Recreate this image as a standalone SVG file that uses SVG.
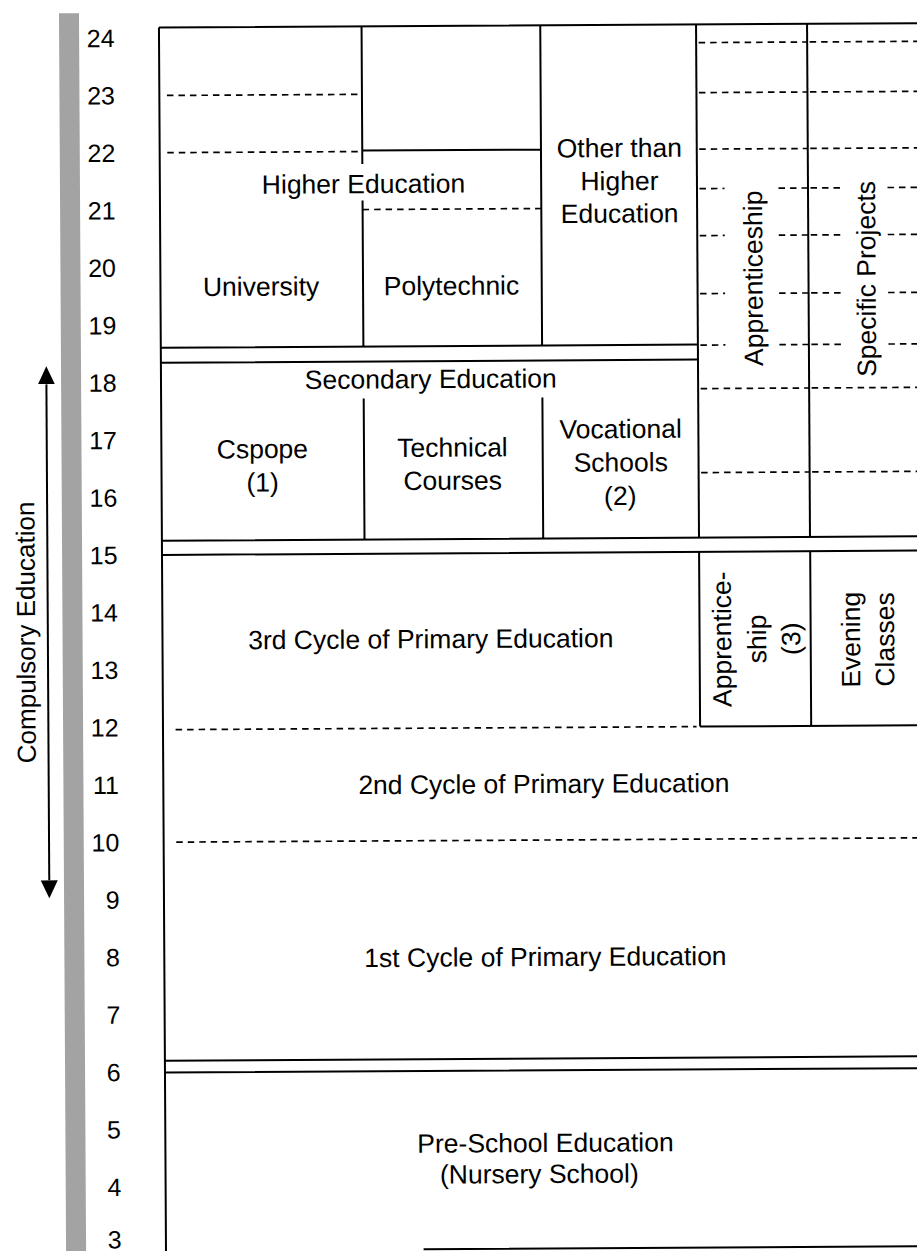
<svg xmlns="http://www.w3.org/2000/svg" width="917" height="1251" viewBox="0 0 917 1251">
<style>
.s{stroke:#000;stroke-width:2;fill:none}
.d{stroke:#000;stroke-width:1.7;stroke-dasharray:6.5 5;fill:none}
.t{font-family:"Liberation Sans",Arial,Helvetica,sans-serif;font-size:26.5px;fill:#000;text-anchor:middle}
.n{font-family:"Liberation Sans",Arial,Helvetica,sans-serif;font-size:25px;fill:#000;text-anchor:end}
</style>
<defs>
<marker id="ah" viewBox="0 0 18 17" refX="0" refY="8.5" markerUnits="userSpaceOnUse" markerWidth="18" markerHeight="17" orient="auto-start-reverse">
<path d="M0,0 L18,8.5 L0,17 z" fill="#000"/>
</marker>
</defs>
<rect width="917" height="1251" fill="#fff"/>
<g transform="rotate(-0.33 459 625)">
<g id="age-scale">
<rect x="62.5" y="11" width="20" height="1262" fill="#a3a3a3"/>
<text class="n" x="118" y="45">24</text>
<text class="n" x="118" y="102.45">23</text>
<text class="n" x="118" y="159.9">22</text>
<text class="n" x="118" y="217.35">21</text>
<text class="n" x="118" y="274.8">20</text>
<text class="n" x="118" y="332.25">19</text>
<text class="n" x="118" y="389.7">18</text>
<text class="n" x="118" y="447.15">17</text>
<text class="n" x="118" y="504.6">16</text>
<text class="n" x="118" y="562.05">15</text>
<text class="n" x="118" y="619.5">14</text>
<text class="n" x="118" y="676.95">13</text>
<text class="n" x="118" y="734.4">12</text>
<text class="n" x="118" y="791.85">11</text>
<text class="n" x="118" y="849.3">10</text>
<text class="n" x="118" y="906.75">9</text>
<text class="n" x="118" y="964.2">8</text>
<text class="n" x="118" y="1021.65">7</text>
<text class="n" x="118" y="1079.1">6</text>
<text class="n" x="118" y="1136.55">5</text>
<text class="n" x="118" y="1194">4</text>
<text class="n" x="118" y="1246.5">3</text>
</g>
<g id="compulsory-education">
<text class="t" style="font-size:26px" transform="translate(35 630) rotate(-90)">Compulsory Education</text>
</g>
<g id="connectors">
<path class="s" d="M47.8 382 V878" marker-start="url(#ah)" marker-end="url(#ah)"/>
</g>
<g id="frame">
<path class="s" d="M162.4 25.8 H935 M162.4 25.8 V1270"/>
</g>
<g id="higher-education">
<path class="s" d="M365 25.8 V163.5 M365 200 V346 M543.7 25.8 V346 M365 150 H543.7 M162.4 346 H699.5"/>
<path class="d" d="M170 93.8 H365 M170 151 H365 M365 209 H543.7"/>
<text class="t" x="366" y="192.5">Higher Education</text>
</g>
<g id="university">
<text class="t" x="263" y="294.5">University</text>
</g>
<g id="polytechnic">
<text class="t" x="453.4" y="294.8">Polytechnic</text>
</g>
<g id="other-than-higher-education">
<text class="t" x="622" y="158">Other than</text>
<text class="t" x="622" y="191">Higher</text>
<text class="t" x="622" y="223.5">Education</text>
</g>
<g id="apprenticeship">
<path class="s" d="M699.5 25.8 V539"/>
<path class="d" d="M702 44 H810.5 M702 94 H810.5 M702 150.5 H810.5 M702 390 H810.5 M702 474 H810.5 M702 190 H727 M781 190 H810.5 M702 237 H727 M781 237 H810.5 M702 295 H727 M781 295 H810.5 M702 346.5 H727 M781 346.5 H810.5"/>
<text class="t" transform="translate(764.5 280) rotate(-90)">Apprenticeship</text>
</g>
<g id="specific-projects">
<path class="s" d="M810.5 25.8 V539"/>
<path class="d" d="M813 44 H935 M813 94 H935 M813 150.5 H935 M813 390 H935 M813 474 H935 M813 190 H844 M890 190 H935 M813 237 H844 M890 237 H935 M813 295 H844 M890 295 H935 M813 346.5 H844 M890 346.5 H935"/>
<text class="t" transform="translate(877.5 281.3) rotate(-90)">Specific Projects</text>
</g>
<g id="secondary-education">
<path class="s" d="M162.4 361 H699.5 M365 398 V539 M543.7 398 V539 M162.4 539 H935 M162.4 553.2 H935"/>
<text class="t" x="432.2" y="388">Secondary Education</text>
</g>
<g id="cspope">
<text class="t" x="263.4" y="457">Cspope</text>
<text class="t" x="263.4" y="490.4">(1)</text>
</g>
<g id="technical-courses">
<text class="t" x="453.5" y="456.6">Technical</text>
<text class="t" x="453.5" y="489.6">Courses</text>
</g>
<g id="vocational-schools">
<text class="t" x="621.7" y="439">Vocational</text>
<text class="t" x="621.7" y="472.4">Schools</text>
<text class="t" x="621" y="506">(2)</text>
</g>
<g id="primary-3rd-cycle">
<path class="d" d="M175 728 H696"/>
<text class="t" x="430.7" y="648">3rd Cycle of Primary Education</text>
</g>
<g id="apprenticeship-3">
<path class="s" d="M699.5 553.2 V728 M810.6 553.2 V728 M699.5 728 H935"/>
<text class="t" transform="translate(731 640.7) rotate(-90)">Apprentice-</text>
<text class="t" transform="translate(766 640.7) rotate(-90)">ship</text>
<text class="t" transform="translate(800 640.7) rotate(-90)">(3)</text>
</g>
<g id="evening-classes">
<text class="t" transform="translate(860 642) rotate(-90)">Evening</text>
<text class="t" transform="translate(894 642) rotate(-90)">Classes</text>
</g>
<g id="primary-2nd-cycle">
<path class="d" d="M175 840.5 H935"/>
<text class="t" x="543" y="793.5">2nd Cycle of Primary Education</text>
</g>
<g id="primary-1st-cycle">
<path class="s" d="M162.4 1059 H935"/>
<text class="t" x="543.5" y="966.5">1st Cycle of Primary Education</text>
</g>
<g id="pre-school">
<path class="s" d="M162.4 1070.8 H935 M420 1249 H935"/>
<text class="t" x="542.5" y="1152.5">Pre-School Education</text>
<text class="t" x="536.2" y="1183.5">(Nursery School)</text>
</g>
</g>
</svg>
